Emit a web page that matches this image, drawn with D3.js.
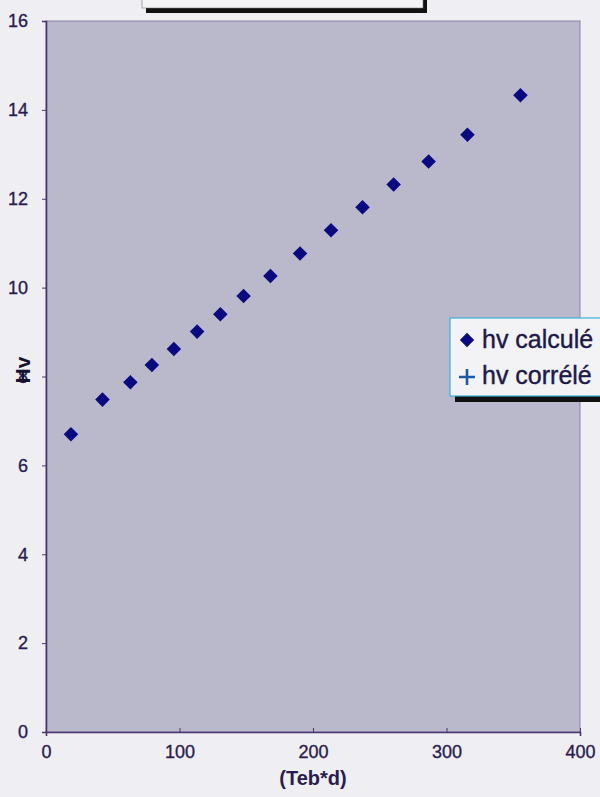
<!DOCTYPE html>
<html>
<head>
<meta charset="utf-8">
<script src="https://cdn.jsdelivr.net/npm/d3@7"></script>
<style>
  html, body { margin: 0; padding: 0; background: #efeff3; }
  svg { display: block; }
</style>
</head>
<body>
<svg id="chart" width="600" height="797"></svg>
<script>
const xValues = [18.7, 42.3, 63.2, 79.3, 95.8, 113.2, 130.6, 148.0, 168.1, 190.3, 213.5, 237.1, 260.4, 286.6, 315.7, 355.4];
const hvCalcule = [6.70, 7.48, 7.87, 8.26, 8.62, 9.01, 9.40, 9.81, 10.26, 10.77, 11.29, 11.81, 12.32, 12.84, 13.44, 14.33];
const xTicks = [0, 100, 200, 300, 400];
const yTicks = [0, 2, 4, 6, 8, 10, 12, 14, 16];
const seriesNames = ["hv calculé", "hv corrélé"];
const xTitle = "(Teb*d)";
const yTitle = "Hv";

const svg = d3.select("#chart");
const m = { left: 46, right: 580, top: 21, bottom: 732 };
const x = d3.scaleLinear().domain([0, 400]).range([m.left, m.right]);
const y = d3.scaleLinear().domain([0, 16]).range([m.bottom, m.top]);

const axisColor = "#4a3470";
const textColor = "#2a1c4e";
const markColor = "#0a0a80";
const font = "Liberation Sans, Arial, sans-serif";

// Title box remnant (cropped at top)
svg.append("rect").attr("x", 146).attr("y", -20).attr("width", 281).attr("height", 33)
  .attr("fill", "#111").attr("stroke", "none");
svg.append("rect").attr("x", 142).attr("y", -24).attr("width", 281).attr("height", 32)
  .attr("fill", "#f4f4f6").attr("stroke", "#777").attr("stroke-width", 0.6);

// plot background
svg.append("rect").attr("x", m.left).attr("y", m.top)
  .attr("width", m.right - m.left).attr("height", m.bottom - m.top)
  .attr("fill", "#bab8cb").attr("stroke", "#8a82a8").attr("stroke-width", 1);

// axes
const yAxis = d3.axisLeft(y).tickValues(yTicks).tickSize(4).tickPadding(14).tickFormat(d3.format("d"));
const gy = svg.append("g").attr("transform", `translate(${m.left},0)`).call(yAxis);
gy.select(".domain").attr("stroke", axisColor).attr("stroke-width", 1.6);
gy.selectAll(".tick line").attr("stroke", axisColor);
gy.selectAll(".tick text").attr("fill", textColor).attr("stroke", textColor).attr("stroke-width", 0.35)
  .attr("font-family", font).attr("font-size", 18);

const xAxis = d3.axisBottom(x).tickValues(xTicks).tickSize(4).tickPadding(9).tickFormat(d3.format("d"));
const gx = svg.append("g").attr("transform", `translate(0,${m.bottom})`).call(xAxis);
gx.select(".domain").attr("stroke", axisColor).attr("stroke-width", 1.6);
gx.selectAll(".tick line").attr("stroke", axisColor).attr("y1", -4).attr("y2", 0);
gx.selectAll(".tick text").attr("fill", textColor).attr("stroke", textColor).attr("stroke-width", 0.35)
  .attr("font-family", font).attr("font-size", 18);

// axis titles
svg.append("text").attr("x", x(200)).attr("y", 785).attr("text-anchor", "middle")
  .attr("font-family", font).attr("font-weight", "bold")
  .attr("font-size", 20).attr("fill", textColor).text(xTitle);
svg.append("text").attr("transform", `translate(30,370) rotate(-90)`).attr("text-anchor", "middle")
  .attr("font-family", font).attr("font-weight", "bold")
  .attr("font-size", 21).attr("fill", "#15122e").text(yTitle);

// points
const diamond = d3.symbol().type(d3.symbolDiamond2).size(135);
svg.append("g").selectAll("path").data(xValues.map((v, i) => [v, hvCalcule[i]]))
  .join("path")
  .attr("transform", d => `translate(${x(d[0])},${y(d[1])})`)
  .attr("d", diamond)
  .attr("fill", markColor);

// legend
const lg = svg.append("g");
lg.append("rect").attr("x", 455).attr("y", 323).attr("width", 160).attr("height", 79).attr("fill", "#111");
lg.append("rect").attr("x", 450).attr("y", 318).attr("width", 160).attr("height", 78)
  .attr("fill", "#f3f3f6").attr("stroke", "#3ab0d8").attr("stroke-width", 1.2);
lg.append("path").attr("transform", "translate(467,340)").attr("d", d3.symbol().type(d3.symbolDiamond2).size(130))
  .attr("fill", markColor);
lg.append("path").attr("d", "M459,377H475M467,369V385").attr("stroke", "#1a5aa8").attr("stroke-width", 2.6);
lg.selectAll("text.lt").data(seriesNames).join("text")
  .attr("x", 482).attr("y", (d, i) => 348 + i * 36)
  .attr("font-family", font).attr("font-size", 25)
  .attr("stroke", "#1c1a48").attr("stroke-width", 0.4)
  .attr("fill", "#1c1a48").text(d => d);
</script>
</body>
</html>
